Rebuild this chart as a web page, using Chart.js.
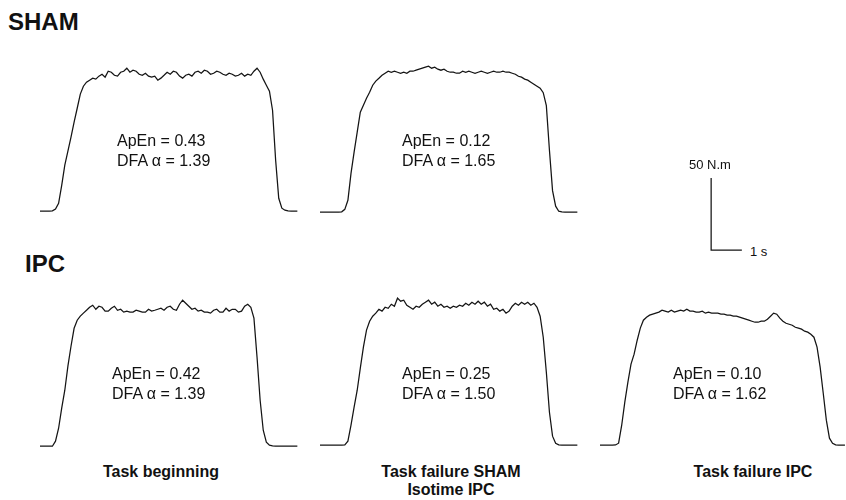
<!DOCTYPE html>
<html>
<head>
<meta charset="utf-8">
<script src="https://cdn.jsdelivr.net/npm/chart.js@4.4.1/dist/chart.umd.min.js"></script>
<style>
    body { margin: 0; background: #fff; }
    #figure { position: relative; width: 846px; height: 500px; overflow: hidden;
              font-family: "Liberation Sans", Arial, sans-serif; color: #111; }
    #figure canvas { position: absolute; }
    .lbl { position: absolute; white-space: pre; }
    .row { font-weight: bold; font-size: 24px; line-height: 24px; }
    .stats { font-size: 16px; line-height: 20px; }
    .col { font-weight: bold; font-size: 16px; line-height: 18px; width: 220px; text-align: center; }
    .bar { font-size: 13px; line-height: 13px; }
</style>
</head>
<body>
<div id="figure"></div>
<script>
// torque traces (N.m), one sample every 0.1 s
const SAMPLE_DT = 0.1;

const shamBeginning = [
    0, 0, 0, 0, 0.3, 1.5, 5.5, 18, 32, 41.7, 51.4, 61.8, 71.5, 81.3, 86.8, 89.6, 91.0,
    92.4, 91.7, 93.8, 95.1, 93.1, 97.2, 96.5, 94.4, 93.8, 96.5,
    97.2, 99.3, 96.5, 97.9, 97.2, 95.1, 94.4, 95.8, 93.8, 93.1,
    93.8, 91.0, 92.4, 94.4, 96.5, 95.1, 97.2, 96.5, 93.8, 92.4,
    94.4, 95.1, 93.8, 96.5, 97.2, 95.8, 97.9, 97.2, 95.1, 95.8,
    97.2, 96.5, 95.1, 94.4, 95.8, 95.1, 93.8, 94.4, 95.8, 93.8,
    95.1, 94.4, 97.2, 99.3, 96.5, 91.7, 87.5, 83.3, 70.1, 35.4,
    9.0, 2.1, 0.7, 0.2, 0, 0, 0
];
const shamFailure = [
    0, 0, 0, 0, 0, 0, 0, 0.3, 2, 8.3,
    27, 41.7, 55.6, 69.4, 74.3, 79.2, 83.3, 88.2, 91, 93,
    95.1, 96.5, 97.9, 97.2, 97.9, 97.2, 96.5, 97.2, 96.5, 97.9,
    97.9, 98.6, 99.3, 100, 100.7, 101.4, 100, 100.7, 99.3, 98.6,
    99.3, 97.9, 97.2, 97.2, 96.5, 96.5, 97.9, 97.2, 97.9, 97.2,
    96.5, 97.2, 97.9, 97.2, 96.5, 97.2, 97.9, 97.2, 97.2, 97.9,
    97.2, 97.2, 96.5, 95.8, 94.4, 93.8, 92.4, 91.7, 90.3, 88.9,
    87.5, 86.1, 83, 74, 43, 15, 4.2, 0.7, 0.2, 0,
    0, 0, 0, 0
];
const ipcBeginning = [
    0, 0, 0, 0, 0,
    3.5, 12.5, 26.4, 38.9, 55.6, 69.4, 81.9, 87.5, 90.3, 92.4,
    94.4, 96.5, 97.9, 95.1, 97.2, 96.5, 93.8, 93.8, 95.8, 97.2,
    94.4, 95.1, 93.1, 93.8, 93.1, 93.1, 94.4, 93.8, 93.1, 93.1,
    95.1, 93.8, 94.4, 95.1, 95.8, 94.4, 96.5, 97.2, 95.1, 94.4,
    98.6, 101.4, 99.3, 97.2, 95.1, 95.8, 93.8, 94.4, 93.1, 93.1,
    92.4, 94.4, 95.1, 93.1, 93.1, 95.8, 93.8, 95.1, 95.1, 93.1,
    93.8, 97.2, 98.6, 96.5, 88.9, 61.8, 31.9, 11.1, 2.8, 0.7,
    0.2, 0, 0, 0, 0, 0, 0, 0, 0
];
const ipcIsotime = [
    0, 0, 0, 0, 0, 0, 0, 0, 0.3,
    2.8, 13.9, 26.4, 38.2, 53.5, 68.1, 79.9, 86.1, 89.6, 91.7,
    94.4, 93.1, 95.8, 95.1, 97.9, 96.5, 102.1, 100, 100.7, 97.2,
    95.8, 94.4, 96.5, 95.8, 97.9, 99.3, 100.7, 97.9, 99.3, 96.5,
    97.9, 95.8, 96.5, 95.1, 96.5, 95.8, 97.2, 96.5, 98.6, 97.2,
    99.3, 97.9, 100, 97.9, 99.3, 96.5, 97.9, 94.4, 95.1, 93.1,
    94.4, 91.7, 93.1, 96.5, 98.6, 97.2, 99.3, 97.9, 99.3, 97.2,
    98.6, 95.8, 89.6, 75, 50.7, 22.9, 6.3, 1.4, 0.3, 0,
    0, 0, 0, 0, 0
];
const ipcFailure = [
    0, 0, 0, 0, 0, 0.2,
    1.4, 13.9, 29.9, 43.8, 56.3, 63.2, 72.9, 81.3, 86.8, 88.9,
    90.3, 91, 91.7, 92.4, 93.8, 93.1, 92.4, 93.8, 92.4, 93.1,
    93.8, 93.1, 94.4, 93.1, 93.1, 92.4, 92.4, 93.1, 91.7, 92.4,
    91.7, 91.7, 91.7, 91, 91, 90.3, 90.3, 89.6, 89.6, 88.9,
    88.2, 87.5, 86.8, 86.1, 85.4, 85.4, 86.1, 86.1, 87.5, 89.6,
    91.7, 91, 88.2, 86.1, 84.7, 84, 83.3, 81.9, 81.3, 80.6,
    79.2, 78.5, 77.1, 75, 68.1, 54.2, 36.1, 17.4, 4.9, 1.4,
    0.3, 0, 0, 0
];

const apEn = [0.43, 0.12, 0.42, 0.25, 0.10];
const dfaAlpha = [1.39, 1.65, 1.39, 1.50, 1.62];
const rowLabels = ['SHAM', 'IPC'];
const columnLabels = ['Task beginning', 'Task failure SHAM\nIsotime IPC', 'Task failure IPC'];

// calibration bar
const BAR_TORQUE = 50;   // N.m
const BAR_TIME = 1;      // s
const BAR_UNITS = ['N.m', 's'];

// layout
const PX_PER_S = 31;
const PX_PER_NM = 1.44;
const X_MAX = 8.45;
const Y_MIN = -4, Y_MAX = 105;
const LINE_COLOR = '#141414';

const figure = document.getElementById('figure');

const panels = [
    { trace: shamBeginning, left: 40,  baseline: 211, stats: [117, 131] },
    { trace: shamFailure,   left: 320, baseline: 212, stats: [402, 131] },
    { trace: ipcBeginning,  left: 40,  baseline: 446, stats: [112, 364] },
    { trace: ipcIsotime,    left: 320, baseline: 445, stats: [402, 364] },
    { trace: ipcFailure,    left: 600, baseline: 445, stats: [673, 364] }
];

function addLabel(text, cls, left, top) {
    const el = document.createElement('div');
    el.className = 'lbl ' + cls;
    el.textContent = text;
    el.style.left = left + 'px';
    el.style.top = top + 'px';
    figure.appendChild(el);
    return el;
}

function lineChart(canvas, points, xMin, xMax, yMin, yMax) {
    return new Chart(canvas, {
        type: 'line',
        data: {
            datasets: [{
                data: points,
                borderColor: LINE_COLOR,
                borderWidth: 1.25,
                pointRadius: 0,
                tension: 0,
                fill: false
            }]
        },
        options: {
            responsive: false,
            animation: false,
            events: [],
            layout: { padding: 0 },
            plugins: {
                legend: { display: false },
                tooltip: { enabled: false }
            },
            scales: {
                x: { type: 'linear', min: xMin, max: xMax, display: false },
                y: { type: 'linear', min: yMin, max: yMax, display: false }
            }
        }
    });
}

function drawTrace(panel) {
    const canvas = document.createElement('canvas');
    canvas.width = Math.round(X_MAX * PX_PER_S);
    canvas.height = Math.round((Y_MAX - Y_MIN) * PX_PER_NM);
    canvas.style.left = panel.left + 'px';
    canvas.style.top = (panel.baseline - Y_MAX * PX_PER_NM) + 'px';
    figure.appendChild(canvas);
    const points = panel.trace.map((v, i) => ({ x: i * SAMPLE_DT, y: v }));
    lineChart(canvas, points, 0, X_MAX, Y_MIN, Y_MAX);
}

function drawScaleBar(cornerX, cornerY) {
    const pad = 0.2;  // s either side
    const padY = 2;   // N.m either side
    const canvas = document.createElement('canvas');
    canvas.width = Math.round((BAR_TIME + 2 * pad) * PX_PER_S);
    canvas.height = Math.round((BAR_TORQUE + 2 * padY) * PX_PER_NM);
    canvas.style.left = (cornerX - pad * PX_PER_S) + 'px';
    canvas.style.top = (cornerY - (BAR_TORQUE + padY) * PX_PER_NM) + 'px';
    figure.appendChild(canvas);
    const points = [
        { x: 0, y: BAR_TORQUE },
        { x: 0, y: 0 },
        { x: BAR_TIME, y: 0 }
    ];
    lineChart(canvas, points, -pad, BAR_TIME + pad, -padY, BAR_TORQUE + padY);

    addLabel(BAR_TORQUE + ' ' + BAR_UNITS[0], 'bar', cornerX - 22, cornerY - BAR_TORQUE * PX_PER_NM - 20);
    addLabel(BAR_TIME + ' ' + BAR_UNITS[1], 'bar', cornerX + BAR_TIME * PX_PER_S + 8, cornerY - 5);
}

panels.forEach((panel, i) => {
    drawTrace(panel);
    addLabel('ApEn = ' + apEn[i].toFixed(2) + '\nDFA \u03B1 = ' + dfaAlpha[i].toFixed(2),
        'stats', panel.stats[0], panel.stats[1]);
});

drawScaleBar(711, 250);

addLabel(rowLabels[0], 'row', 8, 10);
addLabel(rowLabels[1], 'row', 25, 252);

[161, 451, 753].forEach((cx, i) => {
    addLabel(columnLabels[i], 'col', cx - 110, 463);
});
</script>
</body>
</html>
